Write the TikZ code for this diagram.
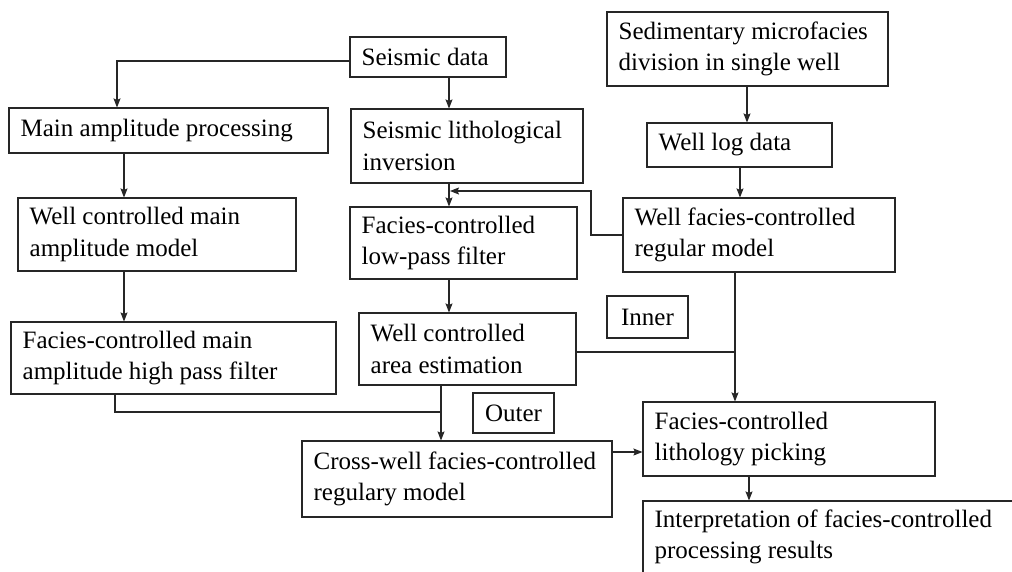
\documentclass[tikz,border=0pt]{standalone}
\usepackage{fontspec}
\setmainfont{Liberation Serif}
\usetikzlibrary{arrows.meta}
\tikzset{
  box/.style={draw=black!85, line width=1.1pt, rectangle, inner sep=0pt},
  txt/.style={anchor=west, inner sep=0pt, align=left, xshift=12pt,
    font=\fontsize{25}{31.5}\selectfont},
  ctxt/.style={font=\fontsize{25}{31.5}\selectfont},
  conn/.style={draw=black!85, line width=1.1pt},
  arr/.style={conn, -{Stealth[length=9pt,width=7pt,inset=1.5pt]}}
}
\newcommand{\bx}[6]{%
  \node[box, minimum width={(#4-#2)*1pt}, minimum height={(#5-#3)*1pt},
        label={[txt]west:{#6}}] (#1) at ({(#2+#4)/2},{(#3+#5)/2}) {};}
\begin{document}
\begin{tikzpicture}[x=1pt,y=-1pt]
\path[use as bounding box] (0,0) rectangle (1012,571);
\clip (0,0) rectangle (1012,571);
% helper coordinates
\coordinate (x117) at (117,0);
\coordinate (x124) at (124,0);
\coordinate (x115) at (115,0);
\coordinate (x441) at (441,0);
\coordinate (x449) at (449,0);
\coordinate (x450) at (450,0);
\coordinate (x735) at (735,0);
\coordinate (x740) at (740,0);
\coordinate (x747) at (747,0);
\coordinate (x749) at (749,0);
\coordinate (y452) at (0,452);
\coordinate (fb) at (591,191);
\coordinate (jn) at (441,412);
% boxes
\bx{sd}{350}{37}{506}{77}{Seismic data}
\bx{smd}{607}{12}{888}{86}{Sedimentary microfacies\\division in single well}
\bx{map}{9}{108}{328}{153}{Main amplitude processing}
\bx{lith}{351}{109}{583}{183}{Seismic lithological\\inversion}
\bx{wld}{647}{123}{832}{167}{Well log data}
\bx{wcm}{18}{198}{296}{271}{Well controlled main\\amplitude model}
\bx{lpf}{350}{207}{577}{279}{Facies-controlled\\low-pass filter}
\bx{wfc}{623}{198}{895}{272}{Well facies-controlled\\regular model}
\bx{fhp}{11}{322}{336}{394}{Facies-controlled main\\amplitude high pass filter}
\bx{are}{359}{313}{576}{385}{Well controlled\\area estimation}
\bx{cw}{302}{441}{612}{517}{Cross-well facies-controlled\\regulary model}
\bx{lfp}{643}{402}{935}{476}{Facies-controlled\\lithology picking}
\bx{ipr}{643}{501}{1014}{573}{Interpretation of facies-controlled\\processing results}
\node[box, ctxt, minimum width=81pt, minimum height=42pt] (inner) at (647.5,317) {Inner};
\node[box, ctxt, minimum width=81pt, minimum height=40pt] (outer) at (513.5,413) {Outer};
% connectors
\draw[arr] ([yshift=-4pt]sd.west) -| (map.north -| x117);
\draw[arr] (sd.south -| x449) -- (lith.north -| x449);
\draw[arr] (smd.south -| x747) -- (wld.north -| x747);
\draw[arr] (wld.south -| x740) -- (wfc.north -| x740);
\draw[arr] (wfc.west) -| (fb) -- (fb -| x450);
\draw[arr] (lith.south -| x449) -- (lpf.north -| x449);
\draw[arr] (lpf.south -| x449) -- (are.north -| x449);
\draw[conn] ([yshift=-3pt]are.east) -- ([yshift=-3pt]are.east -| x735);
\draw[arr] (wfc.south -| x735) -- (lfp.north -| x735);
\draw[arr] (map.south -| x124) -- (wcm.north -| x124);
\draw[arr] (wcm.south -| x124) -- (fhp.north -| x124);
\draw[conn] (fhp.south -| x115) |- (jn);
\draw[arr] (are.south -| x441) -- (cw.north -| x441);
\draw[arr] (cw.east |- y452) -- (lfp.west |- y452);
\draw[arr] (lfp.south -| x749) -- (ipr.north -| x749);
\end{tikzpicture}
\end{document}
